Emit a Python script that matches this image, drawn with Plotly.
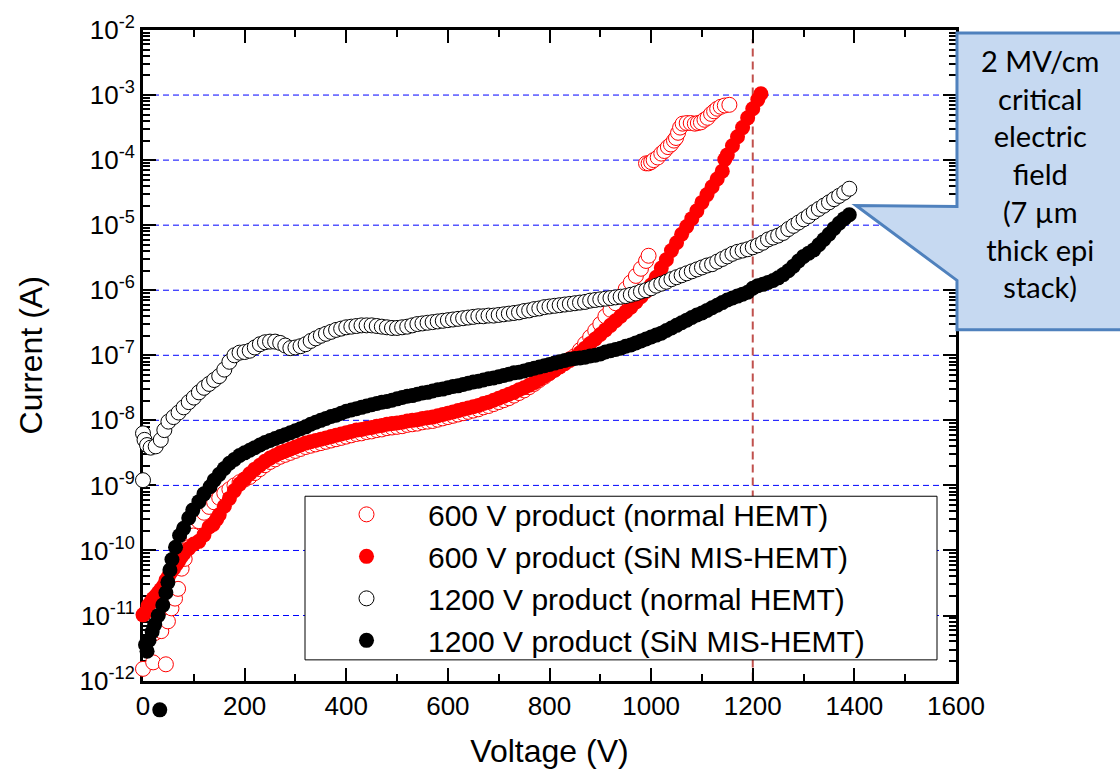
import plotly.graph_objects as go

# ---------------- data (voltage in V, log10 of current in A) ----------------
# 600 V product (normal HEMT) - open red
v_ro = [0, 20, 45, 23, 36, 49, 56, 63, 69, 76, 82, 90, 99, 110, 120, 130, 140, 150, 160, 170,
        180, 190, 200, 210, 220, 230, 240, 250, 260, 270, 280, 290, 300, 310, 320, 330, 340, 350,
        360, 370, 380, 390, 400, 410, 420, 430, 440, 450, 460, 470, 480, 490, 500, 510, 520, 530,
        540, 550, 560, 570, 580, 590, 600, 610, 620, 630, 640, 650, 660, 670, 680, 690, 700, 710,
        720, 730, 740, 750, 760, 770, 780, 790, 800, 810, 820, 830, 840, 850, 860, 870, 880, 890,
        900, 910, 920, 930, 940, 950, 960, 970, 980, 990, 995,
        990, 995, 1000, 1005, 1013, 1020, 1026, 1033, 1039, 1045, 1049, 1053, 1057, 1062, 1070,
        1078, 1086, 1092, 1098, 1105, 1111, 1118, 1124, 1130, 1137, 1145, 1154]
log_ro = [-11.82, -11.72, -11.75, -11.27, -11.24, -11.09, -10.89, -10.74, -10.59, -10.28, -10.13,
          -9.95, -9.77, -9.55, -9.42, -9.33, -9.26, -9.19, -9.12, -9.06,
          -9.00, -8.95, -8.91, -8.87, -8.81, -8.75, -8.69, -8.64, -8.60, -8.56, -8.53, -8.50, -8.47,
          -8.44, -8.41, -8.39, -8.37, -8.35,
          -8.33, -8.31, -8.29, -8.27, -8.25, -8.23, -8.21, -8.20, -8.18, -8.17, -8.15, -8.14, -8.12,
          -8.11, -8.10, -8.09, -8.07, -8.06,
          -8.05, -8.03, -8.02, -8.01, -7.99, -7.97, -7.95, -7.93, -7.91, -7.89, -7.87, -7.85, -7.83,
          -7.80, -7.78, -7.75, -7.72, -7.69,
          -7.66, -7.62, -7.58, -7.54, -7.49, -7.44, -7.38, -7.33, -7.27, -7.22, -7.16, -7.11, -7.06,
          -7.01, -6.92, -6.82, -6.72, -6.62,
          -6.52, -6.40, -6.30, -6.20, -6.10, -5.98, -5.88, -5.78, -5.67, -5.55, -5.47,
          -4.05, -4.05, -4.03, -4.00, -3.96, -3.90, -3.86, -3.80, -3.76, -3.70, -3.66, -3.58, -3.50,
          -3.44, -3.43,
          -3.43, -3.44, -3.43, -3.42, -3.38, -3.35, -3.29, -3.25, -3.21, -3.18, -3.16, -3.15]

# 600 V product (SiN MIS-HEMT) - filled red
v_rf = [0, 5, 10, 15, 20, 25, 30, 35, 40, 45, 50, 55, 60, 65, 70, 75, 80, 90, 100, 110,
        120, 130, 138, 145, 150, 160, 170, 180, 190, 200, 210, 220, 230, 240, 250, 260, 270, 280,
        290, 300, 310, 320, 330, 340, 350, 360, 370, 380, 390, 400, 410, 420, 430, 440, 450, 460,
        470, 480, 490, 500, 510, 520, 530, 540, 550, 560, 570, 580, 590, 600, 610, 620, 630, 640,
        650, 660, 670, 680, 690, 700, 710, 720, 730, 740, 750, 760, 770, 780, 790, 800, 810, 820,
        830, 840, 850, 860, 870, 880, 890, 900, 910, 920, 930, 940, 950, 960, 970, 980, 990, 1000,
        1010, 1020, 1030, 1040, 1050, 1060, 1070, 1080, 1090, 1100, 1110, 1120, 1130, 1140,
        1145, 1150, 1160, 1170, 1180, 1190, 1200, 1210, 1216]
log_rf = [-10.99, -10.95, -10.85, -10.80, -10.74, -10.70, -10.65, -10.60, -10.55, -10.46, -10.40,
          -10.33, -10.28, -10.22, -10.17, -10.10, -10.05, -9.97, -9.90, -9.86,
          -9.76, -9.64, -9.60, -9.52, -9.45, -9.32, -9.20, -9.08, -8.98, -8.90, -8.82, -8.75, -8.69,
          -8.63, -8.58, -8.54, -8.50, -8.47,
          -8.44, -8.41, -8.38, -8.35, -8.33, -8.31, -8.29, -8.27, -8.25, -8.23, -8.21, -8.19, -8.17,
          -8.15, -8.14, -8.12, -8.11, -8.09,
          -8.08, -8.06, -8.05, -8.04, -8.03, -8.01, -8.00, -7.99, -7.97, -7.96, -7.95, -7.93, -7.91,
          -7.89, -7.87, -7.85, -7.83, -7.81,
          -7.79, -7.77, -7.74, -7.72, -7.69, -7.66, -7.63, -7.60, -7.57, -7.53, -7.50, -7.46, -7.42,
          -7.37, -7.32, -7.28, -7.23, -7.18,
          -7.13, -7.08, -7.03, -6.96, -6.89, -6.82, -6.75, -6.68, -6.61, -6.54, -6.47, -6.40, -6.33,
          -6.26, -6.18, -6.10, -6.02, -5.92,
          -5.80, -5.66, -5.53, -5.39, -5.27, -5.14, -5.02, -4.90, -4.78, -4.65, -4.53, -4.41, -4.29,
          -4.17,
          -3.99, -3.92, -3.78, -3.64, -3.50, -3.35, -3.21, -3.07, -2.98]

# 1200 V product (normal HEMT) - open black
v_bo = [0, 0, 3, 8, 15, 25, 35, 42, 50, 60, 70, 80, 90, 100, 110, 120, 130, 140, 150,
        160, 170, 180, 190, 200, 210, 220, 230, 240, 250, 260, 270, 280, 290, 300, 310, 320, 330,
        340, 350, 360, 370, 380, 390, 400, 410, 420, 430, 440, 450, 460, 470, 480, 490, 500, 510,
        520, 530, 540, 550, 560, 570, 580, 590, 600, 610, 620, 630, 640, 650, 660, 670, 680, 690,
        700, 710, 720, 730, 740, 750, 760, 770, 780, 790, 800, 810, 820, 830, 840, 850, 860, 870,
        880, 890, 900, 910, 920, 930, 940, 950, 960, 970, 980, 990, 1000, 1010, 1020, 1030, 1040,
        1050, 1060, 1070, 1080, 1090, 1100, 1110, 1120, 1130, 1140, 1150, 1160, 1170, 1180, 1190,
        1200, 1210, 1220, 1230, 1240, 1250, 1260, 1270, 1280, 1290, 1300, 1310, 1320, 1330, 1340,
        1350, 1360, 1370, 1380, 1390]
log_bo = [-8.92, -8.20, -8.30, -8.38, -8.42, -8.40, -8.30, -8.15, -8.02, -7.95, -7.88, -7.80, -7.72,
          -7.65, -7.57, -7.50, -7.44, -7.38, -7.32,
          -7.22, -7.10, -7.00, -6.96, -6.95, -6.93, -6.88, -6.83, -6.80, -6.79, -6.79, -6.81, -6.85,
          -6.89, -6.88, -6.86, -6.83, -6.78,
          -6.74, -6.70, -6.67, -6.64, -6.61, -6.59, -6.57, -6.56, -6.55, -6.54, -6.54, -6.54, -6.55,
          -6.56, -6.57, -6.58, -6.58, -6.57,
          -6.56, -6.54, -6.52, -6.51, -6.50, -6.49, -6.48, -6.47, -6.46, -6.45, -6.44, -6.43, -6.42,
          -6.41, -6.40, -6.40, -6.39, -6.39,
          -6.38, -6.37, -6.36, -6.35, -6.34, -6.32, -6.31, -6.29, -6.28, -6.26, -6.25, -6.24, -6.23,
          -6.22, -6.21, -6.20, -6.19, -6.18,
          -6.16, -6.15, -6.14, -6.13, -6.12, -6.11, -6.10, -6.09, -6.07, -6.05, -6.02, -6.00, -5.97,
          -5.93, -5.90, -5.87, -5.83,
          -5.80, -5.77, -5.74, -5.71, -5.68, -5.65, -5.62, -5.60, -5.56, -5.52, -5.48, -5.44, -5.41,
          -5.39, -5.37,
          -5.34, -5.31, -5.27, -5.22, -5.19, -5.16, -5.12, -5.06, -5.01, -4.96, -4.91, -4.86, -4.80,
          -4.75, -4.70,
          -4.65, -4.60, -4.55, -4.50, -4.44]

# 1200 V product (SiN MIS-HEMT) - filled black
v_bf = [5, 8, 12, 18, 23, 30, 39, 45, 49, 53, 57, 64, 72, 80, 90, 98, 110, 120, 132,
        140, 150, 160, 170, 180, 190, 200, 210, 220, 230, 240, 250, 260, 270, 280, 290, 300, 310,
        320, 330, 340, 350, 360, 370, 380, 390, 400, 410, 420, 430, 440, 450, 460, 470, 480, 490,
        500, 510, 520, 530, 540, 550, 560, 570, 580, 590, 600, 610, 620, 630, 640, 650, 660, 670,
        680, 690, 700, 710, 720, 730, 740, 750, 760, 770, 780, 790, 800, 810, 820, 830, 840, 850,
        860, 870, 880, 890, 900, 910, 920, 930, 940, 950, 960, 970, 980, 990, 1000, 1010, 1020,
        1030, 1040, 1050, 1060, 1070, 1080, 1090, 1100, 1110, 1120, 1130, 1140, 1150, 1160, 1170,
        1180, 1190, 1200, 1210, 1220, 1230, 1240, 1250, 1260, 1270, 1280, 1290, 1300, 1310, 1320,
        1330, 1340, 1350, 1360, 1370, 1380, 1390]
log_bf = [-11.45, -11.55, -11.38, -11.25, -11.14, -11.00, -10.84, -10.65, -10.49, -10.30,
          -10.14, -9.95, -9.77, -9.66, -9.50, -9.38, -9.25, -9.13, -9.02,
          -8.92, -8.83, -8.74, -8.66, -8.60, -8.54, -8.50, -8.46, -8.42, -8.38, -8.34, -8.31, -8.28,
          -8.25, -8.22, -8.19, -8.16, -8.13,
          -8.10, -8.06, -8.03, -8.00, -7.97, -7.94, -7.92, -7.89, -7.86, -7.84, -7.82, -7.80, -7.78,
          -7.76, -7.74, -7.72, -7.71, -7.69,
          -7.67, -7.65, -7.63, -7.62, -7.60, -7.58, -7.57, -7.55, -7.53, -7.52, -7.50, -7.48, -7.47,
          -7.45, -7.43, -7.41, -7.40, -7.38,
          -7.36, -7.35, -7.33, -7.31, -7.29, -7.27, -7.26, -7.24, -7.22, -7.20, -7.18, -7.16, -7.14,
          -7.12, -7.10, -7.08, -7.06, -7.05,
          -7.04, -7.03, -7.01, -7.00, -6.98, -6.95, -6.93, -6.91, -6.89, -6.86, -6.84, -6.81, -6.78,
          -6.75, -6.72, -6.69, -6.66,
          -6.62, -6.58, -6.54, -6.50, -6.46, -6.42, -6.38, -6.35, -6.31, -6.27, -6.23, -6.19, -6.15,
          -6.12, -6.09,
          -6.06, -6.03, -5.97, -5.93, -5.91, -5.88, -5.85, -5.81, -5.76, -5.70, -5.63, -5.55, -5.48,
          -5.43, -5.38,
          -5.30, -5.22, -5.14, -5.05, -4.97, -4.90, -4.84]

# stray 1200 V SiN point that lies just below the axis floor (next to the "0" label)
v_bf_stray = [33]
log_bf_stray = [-12.45]

# axes
x_tickvals = [0, 200, 400, 600, 800, 1000, 1200, 1400, 1600]
x_minor = [100, 300, 500, 700, 900, 1100, 1300, 1500]
y_exponents = [-12, -11, -10, -9, -8, -7, -6, -5, -4, -3, -2]
y_ticktext = ["10<sup>%d</sup>" % e for e in y_exponents]
grid_exponents = [-11, -10, -9, -8, -7, -6, -5, -4, -3]
crit_voltage = 1200  # 2 MV/cm * 7 um
crit_line_top = 10 ** -2.14

names = ["600 V product (normal HEMT)", "600 V product (SiN MIS-HEMT)",
         "1200 V product (normal HEMT)", "1200 V product (SiN MIS-HEMT)"]


def amps(logs):
    return [10 ** v for v in logs]


AX_FONT = "Liberation Sans, Arial, sans-serif"

# layout geometry: plot area 20..720 px (paper), main y-axis occupies the top 660 px
M_T, M_B = 20, 57
AREA_H = 777 - M_T - M_B            # 700
EXTRA = 40                          # px below the main axis floor
Y_DOM0 = EXTRA / AREA_H
Y2_LOW = -12 - 10.0 * EXTRA / (AREA_H - EXTRA)


def px(X):
    return (X - 143) / 813.0


def py(Y):
    return (720 - Y) / float(AREA_H)


fig = go.Figure()

fig.add_trace(go.Scatter(x=[crit_voltage, crit_voltage], y=[1e-12, crit_line_top], mode="lines",
                         line=dict(color="#C0504D", width=2, dash="8px,5px"),
                         showlegend=False, hoverinfo="skip", cliponaxis=False))

fig.add_trace(go.Scatter(x=v_ro, y=amps(log_ro), mode="markers", name=names[0], cliponaxis=False,
                         marker=dict(symbol="circle", size=15, color="white",
                                     line=dict(color="#FF0000", width=1))))
fig.add_trace(go.Scatter(x=v_rf, y=amps(log_rf), mode="markers", name=names[1], cliponaxis=False,
                         marker=dict(symbol="circle", size=15, color="#FF0000",
                                     line=dict(color="#FF0000", width=0))))
fig.add_trace(go.Scatter(x=v_bo, y=amps(log_bo), mode="markers", name=names[2], cliponaxis=False,
                         marker=dict(symbol="circle", size=15, color="white",
                                     line=dict(color="black", width=1))))
fig.add_trace(go.Scatter(x=v_bf, y=amps(log_bf), mode="markers", name=names[3],
                         cliponaxis=False,
                         marker=dict(symbol="circle", size=15, color="black",
                                     line=dict(color="black", width=0))))
fig.add_trace(go.Scatter(x=v_bf_stray, y=amps(log_bf_stray), mode="markers", yaxis="y2",
                         showlegend=False, cliponaxis=False, hoverinfo="skip",
                         marker=dict(symbol="circle", size=15, color="black")))

y_minor = [k * 10.0 ** e for e in range(-12, -2) for k in range(2, 10)]

fig.update_layout(
    width=1120, height=777,
    margin=dict(l=143, r=164, t=M_T, b=M_B),
    paper_bgcolor="white", plot_bgcolor="rgba(0,0,0,0)",
    font=dict(family=AX_FONT, color="black", size=26),
    showlegend=True,
    legend=dict(x=px(305), y=py(485), xanchor="left", yanchor="top",
                bgcolor="rgba(0,0,0,0)", borderwidth=0,
                font=dict(family=AX_FONT, size=30, color="black"),
                itemsizing="trace", itemwidth=113, tracegroupgap=0),
    xaxis=dict(range=[0, 1600], tickmode="array", tickvals=x_tickvals, anchor="y",
               ticks="inside", ticklen=13, tickwidth=2, tickcolor="black",
               showline=True, linecolor="black", linewidth=3, mirror="ticks",
               showgrid=False, zeroline=False,
               tickfont=dict(family=AX_FONT, size=26),
               title=dict(text="Voltage (V)", font=dict(family=AX_FONT, size=32), standoff=20),
               minor=dict(tickmode="array", tickvals=x_minor, ticks="inside", ticklen=7,
                          tickwidth=2, tickcolor="black", showgrid=False)),
    yaxis=dict(type="log", range=[-12, -2], domain=[Y_DOM0, 1], tickmode="array",
               tickvals=[10.0 ** e for e in y_exponents], ticktext=y_ticktext,
               ticks="inside", ticklen=13, tickwidth=2, tickcolor="black",
               showline=True, linecolor="black", linewidth=3, mirror="ticks",
               showgrid=False, zeroline=False, layer="below traces",
               tickfont=dict(family=AX_FONT, size=26),
               title=dict(text="Current (A)", font=dict(family=AX_FONT, size=32), standoff=28),
               minor=dict(tickmode="array", tickvals=y_minor, ticks="inside", ticklen=7,
                          tickwidth=2, tickcolor="black", showgrid=False)),
    yaxis2=dict(type="log", range=[Y2_LOW, -2], domain=[0, 1], anchor="x", visible=False,
                showgrid=False, zeroline=False),
)

# blue dashed decade grid lines (positioned on the main y-axis domain)
for e in grid_exponents:
    yp = Y_DOM0 + (1 - Y_DOM0) * (e + 12) / 10.0
    fig.add_shape(type="line", xref="paper", yref="paper", x0=0, x1=1, y0=yp, y1=yp,
                  line=dict(color="#0000FF", width=1, dash="6px,4px"), layer="below")

# legend frame (white box with thin black border, drawn above the data)
fig.add_shape(type="rect", xref="paper", yref="paper", x0=px(305), x1=px(937),
              y0=py(659), y1=py(493), fillcolor="white",
              line=dict(color="black", width=1), layer="above")

# callout box
pts = [(957, 23), (1135, 23), (1135, 324), (957, 324), (957, 274), (856, 198), (957, 199)]
path = "M " + " L ".join("%.4f,%.4f" % (px(a), py(b)) for a, b in pts) + " Z"
fig.add_shape(type="path", path=path, xref="paper", yref="paper",
              fillcolor="#C6D9F1", line=dict(color="#4F81BD", width=3), layer="above")

fig.add_annotation(x=px(1040), y=py(166), xref="paper", yref="paper",
                   text="2 MV/cm<br>critical<br>electric<br>field<br>(7 µm<br>thick epi<br>stack)",
                   showarrow=False, xanchor="center", yanchor="middle", align="center",
                   font=dict(family="Lato, Open Sans, sans-serif", size=29, color="black"))

fig.write_html("out.html")
